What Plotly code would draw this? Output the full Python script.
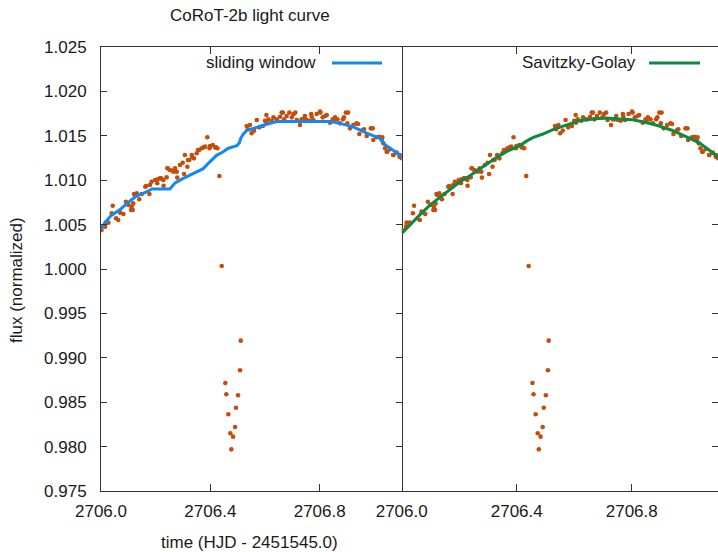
import numpy as np
import plotly.graph_objects as go

# ---- data ----
time_pts = [
    2706.002, 2706.015, 2706.017, 2706.027, 2706.039, 2706.043, 2706.055, 2706.063, 2706.069, 2706.070,
    2706.082, 2706.091, 2706.100, 2706.110, 2706.112, 2706.116, 2706.118, 2706.121, 2706.124, 2706.131,
    2706.140, 2706.149, 2706.162, 2706.165, 2706.177, 2706.179, 2706.185, 2706.198, 2706.206, 2706.208,
    2706.216, 2706.220, 2706.228, 2706.229, 2706.240, 2706.243, 2706.244, 2706.252, 2706.262, 2706.265,
    2706.271, 2706.277, 2706.279, 2706.289, 2706.299, 2706.304, 2706.307, 2706.316, 2706.318, 2706.323,
    2706.332, 2706.334, 2706.340, 2706.350, 2706.355, 2706.359, 2706.368, 2706.376, 2706.381, 2706.389,
    2706.397, 2706.399, 2706.409, 2706.417, 2706.420, 2706.426, 2706.433,
    2706.4416, 2706.4548, 2706.4585, 2706.4658, 2706.4731, 2706.4768, 2706.4830, 2706.4903, 2706.4940,
    2706.5013, 2706.5086, 2706.5112,
    2706.533, 2706.537, 2706.545, 2706.551, 2706.560, 2706.570, 2706.579, 2706.592, 2706.600, 2706.605,
    2706.606, 2706.612, 2706.624, 2706.631, 2706.643, 2706.655, 2706.661, 2706.665, 2706.670, 2706.679,
    2706.689, 2706.698, 2706.704, 2706.711, 2706.716, 2706.728, 2706.734, 2706.740, 2706.746, 2706.752,
    2706.762, 2706.769, 2706.771, 2706.777, 2706.789, 2706.801, 2706.803, 2706.811, 2706.820, 2706.826,
    2706.838, 2706.848, 2706.852, 2706.856, 2706.865, 2706.874, 2706.885, 2706.889, 2706.896, 2706.901,
    2706.904, 2706.911, 2706.923, 2706.935, 2706.940, 2706.945, 2706.958, 2706.962, 2706.972, 2706.987,
    2706.994, 2706.996, 2707.009, 2707.018, 2707.027, 2707.029, 2707.033, 2707.039, 2707.045, 2707.047,
    2707.057, 2707.069, 2707.070, 2707.082, 2707.092, 2707.093, 2707.100,
]
flux_pts = [
    1.00439, 1.00477, 1.00522, 1.00522, 1.00627, 1.00713, 1.00571, 1.00552, 1.00646, 1.00634,
    1.00619, 1.00758, 1.00721, 1.00664, 1.00702, 1.00664, 1.00739, 1.00845, 1.00833, 1.00852,
    1.00785, 1.00845, 1.00927, 1.00935, 1.00845, 1.00946, 1.00983, 1.01002, 1.00965, 1.01010,
    1.01021, 1.01021, 1.01002, 1.00938, 1.01032, 1.01134, 1.01134, 1.01115, 1.01107, 1.01096,
    1.01134, 1.01096, 1.01029, 1.01171, 1.01197, 1.01070, 1.01284, 1.01152, 1.01227, 1.01227,
    1.01284, 1.01258, 1.01246, 1.01303, 1.01340, 1.01340, 1.01359, 1.01370, 1.01378, 1.01483,
    1.01359, 1.01385, 1.01396, 1.01370, 1.01370, 1.01359, 1.01047,
    1.00034, 0.98716, 0.98589, 0.98364, 0.98150, 0.97969, 0.98112, 0.98221, 0.98438,
    0.98578, 0.98859, 0.99193,
    1.01610, 1.01573, 1.01622, 1.01528, 1.01558, 1.01678, 1.01595, 1.01610, 1.01670, 1.01734,
    1.01648, 1.01685, 1.01670, 1.01708, 1.01685, 1.01715, 1.01761, 1.01761, 1.01685, 1.01723,
    1.01761, 1.01708, 1.01745, 1.01761, 1.01678, 1.01622, 1.01685, 1.01685, 1.01723, 1.01678,
    1.01670, 1.01745, 1.01715, 1.01678, 1.01745, 1.01772, 1.01761, 1.01708, 1.01723, 1.01734,
    1.01648, 1.01685, 1.01670, 1.01708, 1.01685, 1.01640, 1.01685, 1.01708, 1.01761, 1.01640,
    1.01761, 1.01584, 1.01622, 1.01640, 1.01633, 1.01520, 1.01565, 1.01573, 1.01498, 1.01584,
    1.01584, 1.01453, 1.01483, 1.01490, 1.01453, 1.01483, 1.01415, 1.01359, 1.01321, 1.01321,
    1.01348, 1.01284, 1.01284, 1.01310, 1.01265, 1.01284, 1.01247,
]

sw_time = [2706.000, 2706.015, 2706.033, 2706.051, 2706.070, 2706.088, 2706.106, 2706.124, 2706.143,
           2706.161, 2706.179, 2706.186, 2706.252, 2706.271, 2706.301, 2706.338, 2706.374, 2706.399,
           2706.423, 2706.447, 2706.466, 2706.497, 2706.506, 2706.511, 2706.521, 2706.533, 2706.570,
           2706.606, 2706.643, 2706.838, 2706.874, 2706.923, 2706.972, 2707.021, 2707.039, 2707.057,
           2707.094, 2707.110]
sw_flux = [1.0046, 1.0052, 1.0059, 1.0063, 1.0067, 1.0072, 1.0076, 1.0081, 1.0084,
           1.0086, 1.0089, 1.0090, 1.0090, 1.0097, 1.0102, 1.0108, 1.0113, 1.0121,
           1.0128, 1.0132, 1.0136, 1.0139, 1.0142, 1.0147, 1.0152, 1.0156, 1.0160,
           1.0163, 1.0166, 1.0166, 1.0164, 1.0160, 1.0153, 1.0147, 1.0140, 1.0136,
           1.0128, 1.0125]

sg_time = [2706.000, 2706.029, 2706.063, 2706.098, 2706.133, 2706.168, 2706.202, 2706.237, 2706.272,
           2706.306, 2706.341, 2706.376, 2706.411, 2706.434, 2706.456, 2706.491, 2706.526, 2706.572,
           2706.618, 2706.665, 2706.711, 2706.757, 2706.803, 2706.850, 2706.896, 2706.942, 2706.989,
           2707.035, 2707.069, 2707.100]
sg_flux = [1.0040, 1.0050, 1.0061, 1.0072, 1.0081, 1.0089, 1.0098, 1.0105, 1.0113,
           1.0121, 1.0128, 1.0134, 1.0139, 1.0144, 1.0148, 1.0152, 1.0157, 1.0162,
           1.0167, 1.0169, 1.0170, 1.0169, 1.0168, 1.0165, 1.0161, 1.0156, 1.0149,
           1.0142, 1.0134, 1.0126]

y_ticks = [0.975, 0.980, 0.985, 0.990, 0.995, 1.000, 1.005, 1.010, 1.015, 1.020, 1.025]
x_ticks = [2706.0, 2706.4, 2706.8]

# ---- style ----
FONT = "Liberation Sans, Arial, sans-serif"
FS = 17
TXT = "#1a1a1a"
DOT = "#c64c0a"
BLUE = "#1188f2"
GREEN = "#0a8a42"
AX = "#333333"

order = np.argsort(time_pts)
t = np.array(time_pts)[order]
f = np.array(flux_pts)[order]

fig = go.Figure()
marker = dict(color=DOT, size=4.6, symbol="circle", line=dict(width=0))
fig.add_trace(go.Scatter(x=t, y=f, mode="markers", marker=marker, xaxis="x", yaxis="y",
                         showlegend=False, hoverinfo="skip"))
fig.add_trace(go.Scatter(x=sw_time, y=sw_flux, mode="lines", line=dict(color=BLUE, width=3),
                         xaxis="x", yaxis="y", showlegend=False))
fig.add_trace(go.Scatter(x=t, y=f, mode="markers", marker=marker, xaxis="x2", yaxis="y2",
                         showlegend=False, hoverinfo="skip"))
fig.add_trace(go.Scatter(x=sg_time, y=sg_flux, mode="lines", line=dict(color=GREEN, width=3),
                         xaxis="x2", yaxis="y2", showlegend=False))

L, R, T, B = 101, 0, 47, 61
W, H = 718, 552
pw = W - L - R
ph = H - T - B
split = 300.7 / pw

def px(xp):
    return (xp - L) / pw

def py(yp):
    return (H - B - yp) / ph

xcommon = dict(range=[2706.0, 2707.1], tickvals=x_ticks, tickformat=".1f", ticks="inside",
               ticklen=7, tickcolor=AX, showline=True, linecolor=AX, linewidth=1,
               mirror="ticks", showgrid=False, zeroline=False,
               tickfont=dict(family=FONT, size=FS, color=TXT), ticklabelstandoff=5)
fig.update_layout(
    width=W, height=H,
    margin=dict(l=L, r=R, t=T, b=B, pad=0),
    paper_bgcolor="white", plot_bgcolor="white",
    font=dict(family=FONT, size=FS, color=TXT),
    xaxis=dict(domain=[0, split], anchor="y", **xcommon),
    xaxis2=dict(domain=[split, 1], anchor="y2", **xcommon),
    yaxis=dict(domain=[0, 1], anchor="x", range=[0.975, 1.025], tickvals=y_ticks,
               tickformat=".3f", ticks="inside", ticklen=6, tickcolor=AX, showline=True,
               linecolor=AX, linewidth=1, mirror="ticks", showgrid=False, zeroline=False,
               tickfont=dict(family=FONT, size=FS, color=TXT), ticklabelstandoff=10),
    yaxis2=dict(domain=[0, 1], anchor="x2", range=[0.975, 1.025], tickvals=y_ticks,
                side="right", showticklabels=False, ticks="inside", ticklen=6, tickcolor=AX,
                showline=True, linecolor=AX, linewidth=1, mirror=False, showgrid=False,
                zeroline=False),
    showlegend=False,
)

annots = [
    dict(text="CoRoT-2b light curve", x=px(250), y=py(16)),
    dict(text="time (HJD - 2451545.0)", x=px(249), y=py(542)),
    dict(text="flux (normalized)", x=px(16), y=py(280), textangle=-90),
    dict(text="sliding window", x=px(318), y=py(63), xanchor="right"),
    dict(text="Savitzky-Golay", x=px(638), y=py(63), xanchor="right"),
]
for a in annots:
    a.setdefault("xanchor", "center")
    fig.add_annotation(xref="paper", yref="paper", showarrow=False, yanchor="middle",
                       font=dict(family=FONT, size=FS, color=TXT), **a)

fig.add_shape(type="line", xref="paper", yref="paper", x0=px(332), x1=px(382), y0=py(63), y1=py(63),
              line=dict(color=BLUE, width=3))
fig.add_shape(type="line", xref="paper", yref="paper", x0=px(649), x1=px(700), y0=py(63), y1=py(63),
              line=dict(color=GREEN, width=3))

fig.write_html("out.html")
